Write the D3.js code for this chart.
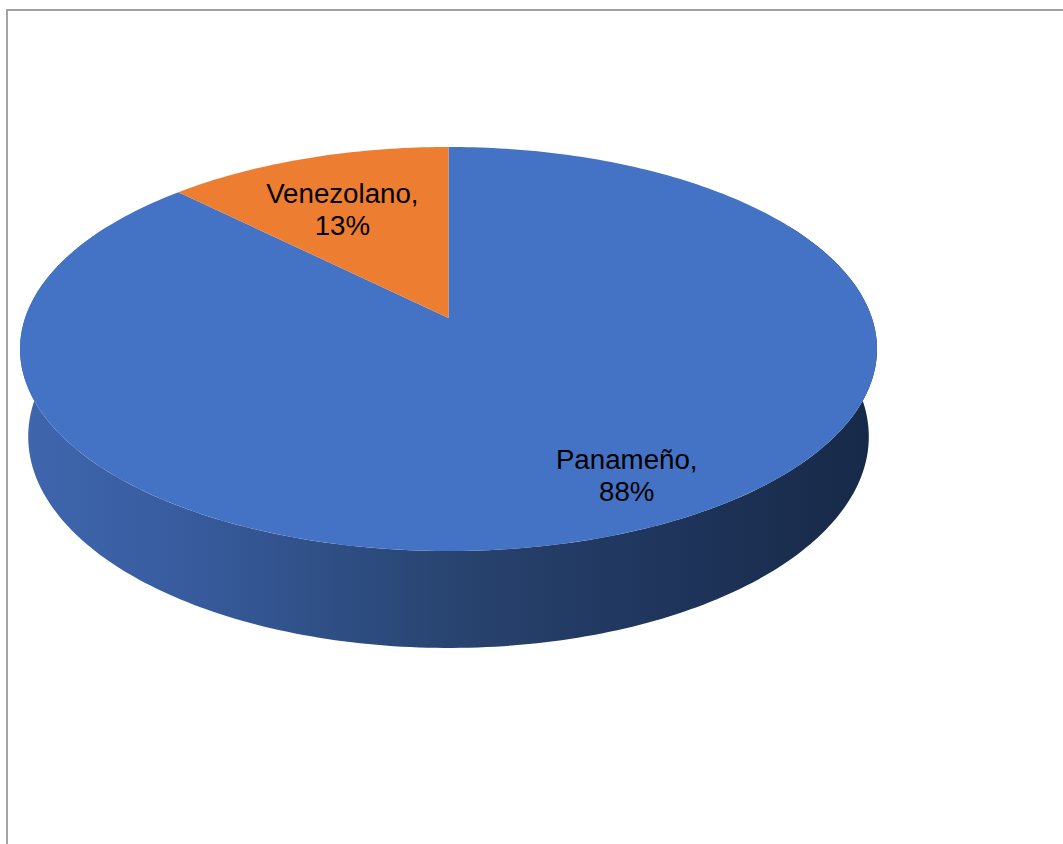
<!DOCTYPE html>
<html>
<head>
<meta charset="utf-8">
<script src="https://cdn.jsdelivr.net/npm/d3@7/dist/d3.min.js"></script>
<style>
  html, body { margin: 0; padding: 0; background: #fff; }
  svg { display: block; }
</style>
</head>
<body>
<svg id="chart" width="1063" height="844"></svg>
<script>
// ---- data ----
const categories = ["Panameño", "Venezolano"];
const values = [87.5, 12.5];
const colors = ["#4472c4", "#ed7d31"];

// ---- layout ----
const W = 1063, H = 844;
const svg = d3.select("#chart");

// frame
svg.append("rect")
  .attr("x", 7).attr("y", 10)
  .attr("width", W + 40).attr("height", H + 40)
  .attr("fill", "none").attr("stroke", "#a3a3a3").attr("stroke-width", 2);

// perspective camera for 3D pie
const cam = {
  cx: 448.5, cy: 318, F: 2441, D: 5.765,
  alpha: Math.asin(0.4659), h: 0.2358
};
const sinA = Math.sin(cam.alpha), cosA = Math.cos(cam.alpha);
function proj(theta, r, Y) {
  // theta: clockwise from 12 o'clock (d3.pie convention)
  const X = r * Math.sin(theta), Z = r * Math.cos(theta);
  const depth = cam.D - Y * sinA + Z * cosA;
  const up = Y * cosA + Z * sinA;
  return [cam.cx + cam.F * X / depth, cam.cy - cam.F * up / depth];
}
function rim(a0, a1, Y, n) {
  const pts = [];
  const steps = n || Math.max(8, Math.ceil(Math.abs(a1 - a0) / (Math.PI / 180)));
  for (let i = 0; i <= steps; i++) {
    const t = a0 + (a1 - a0) * i / steps;
    pts.push(proj(t, 1, Y));
  }
  return pts;
}

const pie = d3.pie().sort(null).value(d => d);
const arcs = pie(values);
const total = d3.sum(values);
const line = d3.line();

// side gradient
const defs = svg.append("defs");
const grad = defs.append("linearGradient")
  .attr("id", "sideGrad").attr("gradientUnits", "userSpaceOnUse")
  .attr("x1", 20).attr("y1", 0).attr("x2", 877).attr("y2", 0);
[[0, "#3f66ae"], [0.2, "#375b9d"], [0.5, "#284470"], [0.75, "#1f355c"], [1, "#172947"]]
  .forEach(([o, c]) => grad.append("stop").attr("offset", o).attr("stop-color", c));

// side walls (front-facing part of each slice's outer wall)
const frontA0 = Math.PI / 3, frontA1 = Math.PI * 5 / 3;
arcs.forEach((a, i) => {
  const s = Math.max(a.startAngle, frontA0), e = Math.min(a.endAngle, frontA1);
  if (e <= s) return;
  const top = rim(s, e, 0);
  const bot = rim(s, e, -cam.h).reverse();
  svg.append("path")
    .attr("d", line(top.concat(bot)) + "Z")
    .attr("fill", i === 0 ? "url(#sideGrad)" : d3.color(colors[i]).darker(1.2));
});

// top faces
arcs.forEach((a, i) => {
  const pts = [proj(0, 0, 0)].concat(rim(a.startAngle, a.endAngle, 0));
  svg.append("path")
    .attr("d", line(pts) + "Z")
    .attr("fill", colors[i]);
});

// labels
const labelPlace = [{ r: 0.804, dTheta: -5.3 }, { r: 0.663, dTheta: -1.9 }];
arcs.forEach((a, i) => {
  const mid = (a.startAngle + a.endAngle) / 2 + labelPlace[i].dTheta * Math.PI / 180;
  const [x, y] = proj(mid, labelPlace[i].r, 0);
  const g = svg.append("text")
    .attr("text-anchor", "middle")
    .attr("font-family", "'Liberation Sans', Arial, sans-serif")
    .attr("font-size", 27.7)
    .attr("fill", "#000");
  g.append("tspan").attr("x", x).attr("y", y - 6).text(categories[i] + ",");
  g.append("tspan").attr("x", x).attr("y", y + 26).text(Math.round(a.value / total * 100) + "%");
});
</script>
</body>
</html>
